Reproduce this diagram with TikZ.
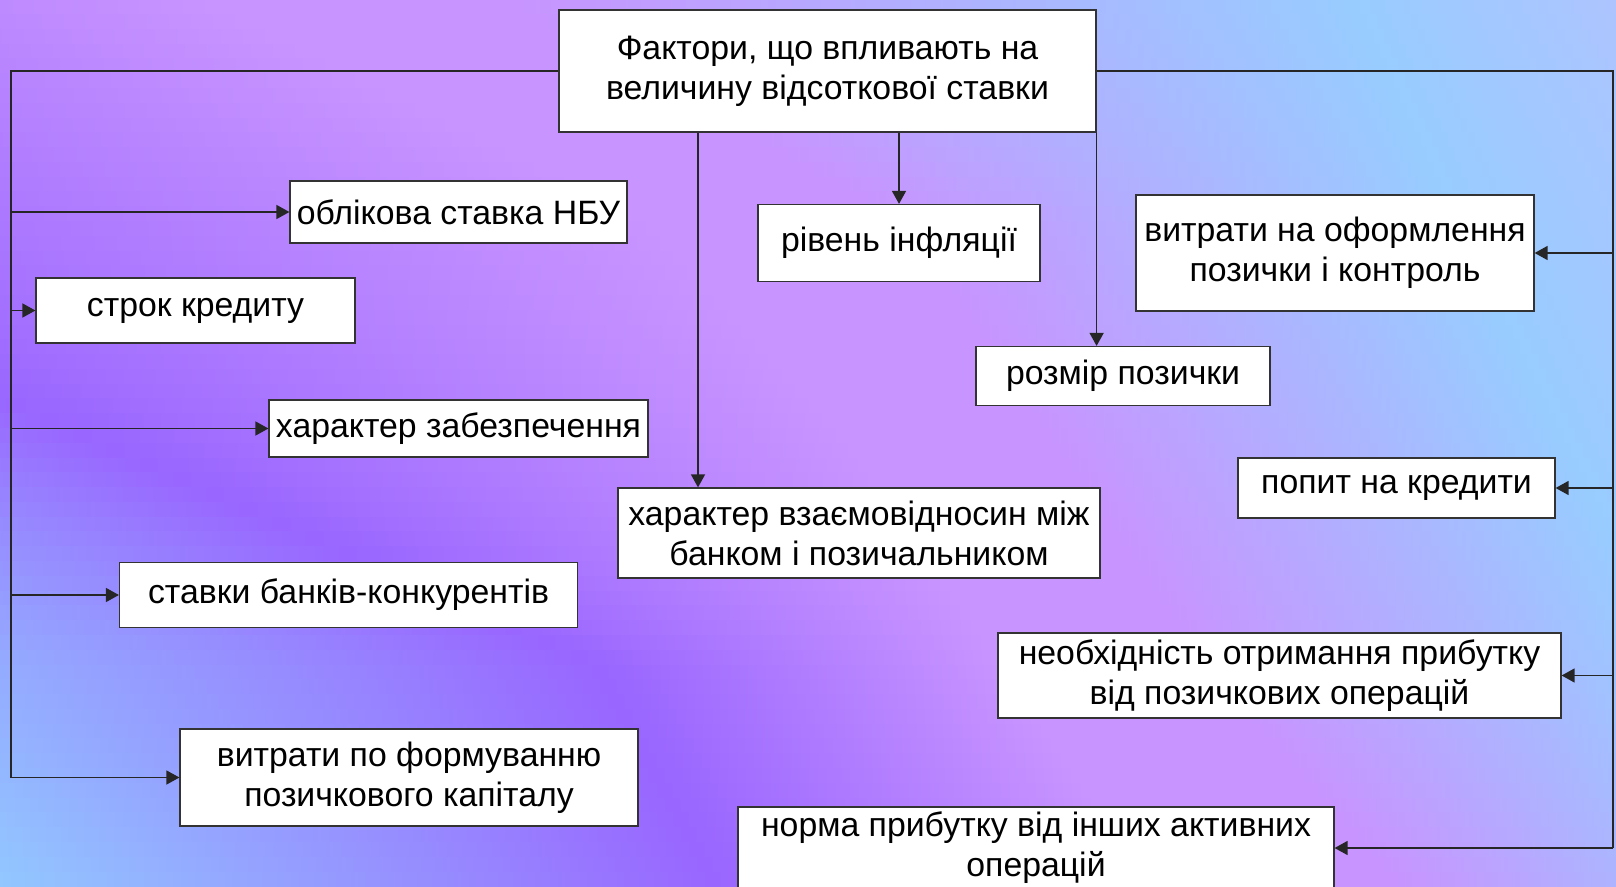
\documentclass[tikz,border=0pt]{standalone}
\usepackage{fontspec}
\setmainfont{Liberation Sans}
\usetikzlibrary{arrows.meta}
\definecolor{cLBa}{HTML}{92C8FF}
\definecolor{cV}{HTML}{9966FF}
\definecolor{cL}{HTML}{C894FF}
\definecolor{cLBb}{HTML}{98CCFF}
\definecolor{cE}{HTML}{B8C0FF}
\newcommand\myipl[2]{\pgfmathsetmacro#1{(({#2}[\segS]*(1-\segF)+{#2}[\segT]*\segF)+2000)*0.5}}
\tikzset{
  box/.style={draw=black!80, line width=0.6pt, fill=white, inner sep=0pt, align=center,
    font=\fontsize{16.9}{20}\selectfont},
  wh/.style 2 args={minimum width=#1*0.5pt, minimum height=#2*0.5pt},
  link/.style={line width=0.75pt, draw=black!85},
  arr/.style={link, -{Triangle[length=6.5pt,width=7pt]}},
  bgstrip/.style={inner sep=0pt, outer sep=0pt, anchor=south west}
}
\begin{document}
\begin{tikzpicture}[x=0.5pt,y=-0.5pt]
\useasboundingbox (0,0) rectangle (1616,887);
\begin{scope}
\clip (0,0) rectangle (1616,887);
\foreach \i in {0,...,59}{
  \pgfmathsetmacro\myY{(\i+0.5)*14.78333}
  \pgfmathsetmacro\myT{\myY/221.75}
  \pgfmathtruncatemacro\segS{min(floor(\myT),3)}
  \pgfmathtruncatemacro\segT{\segS+1}
  \pgfmathsetmacro\segF{\myT-\segS}
  \myipl\pA{-1600,-1100,-600,-250,0}
  \myipl\pB{-800,-400,100,600,720}
  \myipl\pC{200,650,850,1000,1150}
  \myipl\pD{500,900,1050,1200,1400}
  \myipl\pE{1350,1450,1560,1680,1800}
  \myipl\pF{1750,1900,2000,2100,2200}
  \edef\mydecl{\noexpand\pgfdeclarehorizontalshading{row\i}{8pt}{color(0pt)=(cLBa); color(\pA pt)=(cLBa); color(\pB pt)=(cV); color(\pC pt)=(cL); color(\pD pt)=(cL); color(\pE pt)=(cLBb); color(\pF pt)=(cE); color(2300pt)=(cE)}}
  \mydecl
  \pgfmathsetmacro\yB{(\i+1)*14.78333+1}
  \node[bgstrip] (bg\i) at (-2000,\yB) {\pgfuseshading{row\i}};
}
\end{scope}

\node[box, wh={537}{122}] (c) at (827.5,71) {Фактори, що впливають на\\величину відсоткової ставки};
\node[box, wh={337}{62}] (b1) at (458.5,212) {облікова ставка НБУ};
\node[box, wh={319}{65}] (b2) at (195.5,310.5) {строк кредиту};
\node[box, wh={379}{57}] (b3) at (458.5,428.5) {характер забезпечення};
\node[box, wh={458}{65}] (b4) at (348.5,595) {ставки банків-конкурентів};
\node[box, wh={458}{97}] (b5) at (409,777.5) {витрати по формуванню\\позичкового капіталу};
\node[box, wh={282}{77}] (b6) at (899,243) {рівень інфляції};
\node[box, wh={482}{90}] (b7) at (859,533) {характер взаємовідносин між\\банком і позичальником};
\node[box, wh={294}{59}] (b8) at (1123,376) {розмір позички};
\node[box, wh={398}{116}] (b9) at (1335,253) {витрати на оформлення\\позички і контроль};
\node[box, wh={317}{60}] (b10) at (1396.5,488) {попит на кредити};
\node[box, wh={563}{85}] (b11) at (1279.5,675.5) {необхідність отримання прибутку\\від позичкових операцій};
\node[box, wh={596}{82}] (b12) at (1036,848) {норма прибутку від інших активних\\операцій};

\coordinate (lt) at (11,71);
\coordinate (rt) at (1613,71);
\coordinate (k7) at (698,0);

% left trunk
\draw[link] (c.west) -- (lt) -- (lt |- b5.west);
\draw[arr] (lt |- b5.west) -- (b5.west);
\draw[arr] (lt |- b1.west) -- (b1.west);
\draw[arr] (lt |- b2.west) -- (b2.west);
\draw[arr] (lt |- b3.west) -- (b3.west);
\draw[arr] (lt |- b4.west) -- (b4.west);
% right trunk
\draw[link] (c.east) -- (rt) -- (rt |- b12.east);
\draw[arr] (rt |- b12.east) -- (b12.east);
\draw[arr] (rt |- b9.east) -- (b9.east);
\draw[arr] (rt |- b10.east) -- (b10.east);
\draw[arr] (rt |- b11.east) -- (b11.east);
% centre
\draw[arr] (c.south -| k7) -- (b7.north -| k7);
\draw[arr] (c.south -| b6.north) -- (b6.north);
\draw[arr] (c.south east) -- (c.south east |- b8.north);
\end{tikzpicture}
\end{document}
